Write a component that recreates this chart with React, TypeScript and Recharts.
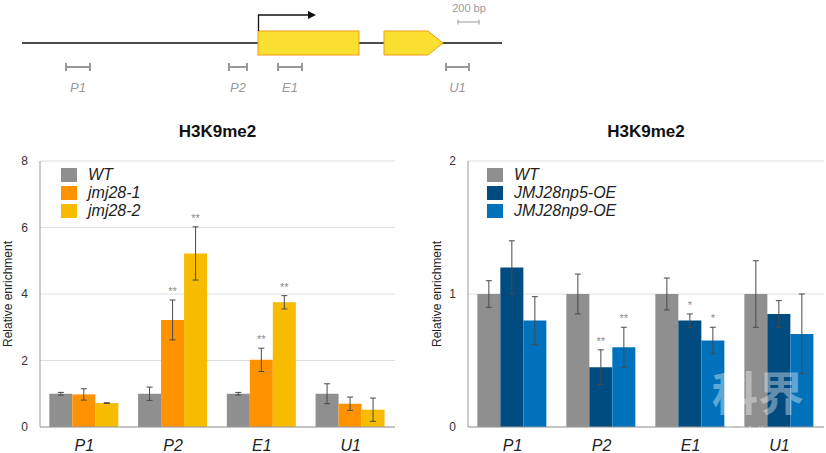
import React from 'react';
import { BarChart, Bar, XAxis, YAxis, CartesianGrid, ErrorBar, LabelList, Legend } from 'recharts';

const categories = ['P1', 'P2', 'E1', 'U1'];

// left panel: jmj28 mutants
const leftWt = [1.0, 1.0, 1.0, 1.0];
const leftWtErr = [0.04, 0.2, 0.04, 0.3];
const leftM1 = [0.98, 3.22, 2.02, 0.7];
const leftM1Err = [0.17, 0.6, 0.35, 0.2];
const leftM1Sig = ['', '**', '**', ''];
const leftM2 = [0.72, 5.22, 3.75, 0.52];
const leftM2Err = [0.01, 0.8, 0.2, 0.35];
const leftM2Sig = ['', '**', '**', ''];
const leftTicks = [0, 2, 4, 6, 8];

// right panel: overexpression lines
const rightWt = [1.0, 1.0, 1.0, 1.0];
const rightWtErr = [0.1, 0.15, 0.12, 0.25];
const rightO5 = [1.2, 0.45, 0.8, 0.85];
const rightO5Err = [0.2, 0.13, 0.05, 0.1];
const rightO5Sig = ['', '**', '*', ''];
const rightO9 = [0.8, 0.6, 0.65, 0.7];
const rightO9Err = [0.18, 0.15, 0.1, 0.3];
const rightO9Sig = ['', '**', '*', ''];
const rightTicks = [0, 1, 2];

const leftNames = ['WT', 'jmj28-1', 'jmj28-2'];
const rightNames = ['WT', 'JMJ28np5-OE', 'JMJ28np9-OE'];
const leftColors = ['#8f8f8f', '#ff9200', '#f7bb00'];
const rightColors = ['#8f8f8f', '#004b80', '#0072bb'];

const primers = ['P1', 'P2', 'E1', 'U1'];

const FONT = '"Liberation Sans", Arial, Helvetica, sans-serif';
const FRAME = '#9a9a9a';
const ERR = '#4a4a4a';

const leftData = categories.map((c, i) => ({
  name: c,
  a: leftWt[i], aErr: leftWtErr[i],
  b: leftM1[i], bErr: leftM1Err[i], bSig: leftM1Sig[i],
  c: leftM2[i], cErr: leftM2Err[i], cSig: leftM2Sig[i],
}));

const rightData = categories.map((c, i) => ({
  name: c,
  a: rightWt[i], aErr: rightWtErr[i],
  b: rightO5[i], bErr: rightO5Err[i], bSig: rightO5Sig[i],
  c: rightO9[i], cErr: rightO9Err[i], cSig: rightO9Sig[i],
}));

// asterisks sit just above the error bar cap
const starLabel = (vals: number[], errs: number[]) => (props: any) => {
  const { x, y, width, height, value, index } = props;
  if (!value) return null;
  const v = vals[index];
  const px = v > 0 ? height / v : 0;
  const top = y - errs[index] * px;
  return (
    <text x={x + width / 2} y={top - 5} textAnchor="middle" fill="#8a8a8a" fontSize={11} fontFamily={FONT}>
      {value}
    </text>
  );
};

const legendContent = (names: string[], colors: string[]) => () => (
  <div style={{ fontFamily: FONT }}>
    {names.map((n, i) => (
      <div key={n} style={{ display: 'flex', alignItems: 'center', height: 18 }}>
        <span style={{ display: 'inline-block', width: 16, height: 14, background: colors[i], marginRight: 11 }} />
        <span style={{ fontStyle: 'italic', fontSize: 16, color: '#222' }}>{n}</span>
      </div>
    ))}
  </div>
);

interface PanelProps {
  data: any[];
  names: string[];
  colors: string[];
  ticks: number[];
  width: number;
  yWidth: number;
  rightMargin: number;
  labelOffset: number;
  legendLeft: number;
  sig: { b: [number[], number[]]; c: [number[], number[]] };
}

const Panel: React.FC<PanelProps> = ({ data, names, colors, ticks, width, yWidth, rightMargin, labelOffset, legendLeft, sig }) => {
  const max = ticks[ticks.length - 1];
  return (
    <BarChart
      width={width}
      height={343}
      data={data}
      margin={{ top: 51, right: rightMargin, bottom: 0, left: 0 }}
      barCategoryGap="10.5%"
      barGap={0}
      style={{ fontFamily: FONT }}
    >
      <CartesianGrid vertical={false} stroke="#dedede" />
      <XAxis
        dataKey="name"
        tickLine={false}
        tickSize={6}
        tickMargin={7}
        height={26}
        axisLine={{ stroke: FRAME }}
        tick={{ fontSize: 16, fontStyle: 'italic', fill: '#222' }}
      />
      <XAxis xAxisId="top" orientation="top" dataKey="name" tick={false} tickLine={false} height={0} axisLine={{ stroke: FRAME }} />
      <YAxis
        domain={[0, max]}
        ticks={ticks}
        width={yWidth}
        tickLine={false}
        tickSize={6}
        tickMargin={6}
        axisLine={{ stroke: FRAME }}
        tick={{ fontSize: 12, fill: '#333' }}
        label={{ value: 'Relative enrichment', angle: -90, position: 'insideLeft', offset: labelOffset, style: { textAnchor: 'middle', fontSize: 12, fill: '#222' } }}
      />
      <YAxis yAxisId="right" orientation="right" type="number" domain={[0, 1]} tick={false} tickLine={false} width={0} axisLine={{ stroke: FRAME }} />
      <Legend
        layout="vertical"
        align="center"
        verticalAlign="middle"
        wrapperStyle={{ top: 56, left: legendLeft, width: 'auto' }}
        content={legendContent(names, colors)}
      />
      <Bar dataKey="a" name={names[0]} fill={colors[0]} isAnimationActive={false}>
        <ErrorBar dataKey="aErr" direction="y" width={3} stroke={ERR} strokeWidth={1} />
      </Bar>
      <Bar dataKey="b" name={names[1]} fill={colors[1]} isAnimationActive={false}>
        <ErrorBar dataKey="bErr" direction="y" width={3} stroke={ERR} strokeWidth={1} />
        <LabelList dataKey="bSig" content={starLabel(sig.b[0], sig.b[1])} />
      </Bar>
      <Bar dataKey="c" name={names[2]} fill={colors[2]} isAnimationActive={false}>
        <ErrorBar dataKey="cErr" direction="y" width={3} stroke={ERR} strokeWidth={1} />
        <LabelList dataKey="cSig" content={starLabel(sig.c[0], sig.c[1])} />
      </Bar>
    </BarChart>
  );
};

// gene model sketch above the charts
const primerPos: Record<string, [number, number]> = { P1: [65, 91], P2: [228, 248], E1: [277, 303], U1: [445, 470] };

const GeneModel = () => (
  <svg width={826} height={100} style={{ position: 'absolute', left: 0, top: 0, fontFamily: FONT }}>
    <line x1={22} y1={43} x2={502} y2={43} stroke="#111" strokeWidth={1.5} />
    <rect x={258} y={31} width={101} height={24} fill="#f9e030" stroke="#f49a1a" strokeWidth={1} />
    <polygon points="384,31 428,31 443,43 428,55 384,55" fill="#f9e030" stroke="#f49a1a" strokeWidth={1} />
    <path d="M258.5 31 V15 H309" fill="none" stroke="#111" strokeWidth={1.3} />
    <polygon points="308,11 316,15 308,19" fill="#111" />
    <text x={469} y={12} textAnchor="middle" fontSize={11} fill="#999">200 bp</text>
    <line x1={458} y1={22} x2={479} y2={22} stroke="#999" strokeWidth={1} />
    <line x1={458} y1={19.5} x2={458} y2={24.5} stroke="#999" strokeWidth={1} />
    <line x1={479} y1={19.5} x2={479} y2={24.5} stroke="#999" strokeWidth={1} />
    {primers.map((p) => {
      const [a, b] = primerPos[p];
      return (
        <g key={p}>
          <line x1={a} y1={67} x2={b} y2={67} stroke="#999" strokeWidth={2} />
          <line x1={a + 1} y1={63} x2={a + 1} y2={71} stroke="#999" strokeWidth={2} />
          <line x1={b - 1} y1={63} x2={b - 1} y2={71} stroke="#999" strokeWidth={2} />
          <text x={(a + b) / 2} y={92} textAnchor="middle" fontSize={13} fontStyle="italic" fill="#999">{p}</text>
        </g>
      );
    })}
  </svg>
);

const titleStyle: React.CSSProperties = {
  position: 'absolute', top: 122, fontFamily: FONT, fontWeight: 'bold', fontSize: 17, color: '#111', textAlign: 'center', lineHeight: '20px',
};

export default function App() {
  return (
    <div style={{ position: 'absolute', left: 0, top: 0, width: 826, height: 453, background: '#fff', overflow: 'hidden' }}>
      <GeneModel />
      <div style={{ ...titleStyle, left: 40, width: 355 }}>H3K9me2</div>
      <div style={{ ...titleStyle, left: 468, width: 356 }}>H3K9me2</div>
      <div style={{ position: 'absolute', left: 0, top: 110 }}>
        <Panel
          data={leftData}
          names={leftNames}
          colors={leftColors}
          ticks={leftTicks}
          width={410}
          yWidth={40}
          rightMargin={15}
          labelOffset={8}
          legendLeft={61}
          sig={{ b: [leftM1, leftM1Err], c: [leftM2, leftM2Err] }}
        />
      </div>
      <div style={{ position: 'absolute', left: 410, top: 110 }}>
        <Panel
          data={rightData}
          names={rightNames}
          colors={rightColors}
          ticks={rightTicks}
          width={416}
          yWidth={58}
          rightMargin={2}
          labelOffset={27}
          legendLeft={77}
          sig={{ b: [rightO5, rightO5Err], c: [rightO9, rightO9Err] }}
        />
      </div>
      <div style={{ position: 'absolute', left: 712, top: 362, fontFamily: '"Noto Sans CJK SC"', fontWeight: 'bold', fontSize: 46, color: 'rgba(255,255,255,0.4)', lineHeight: '56px', pointerEvents: 'none' }}>
        科界
      </div>
      <div style={{ position: 'absolute', left: 725, top: 424, fontFamily: FONT, fontSize: 12, color: 'rgba(255,255,255,0.35)', pointerEvents: 'none' }}>
        SciMall
      </div>
    </div>
  );
}
